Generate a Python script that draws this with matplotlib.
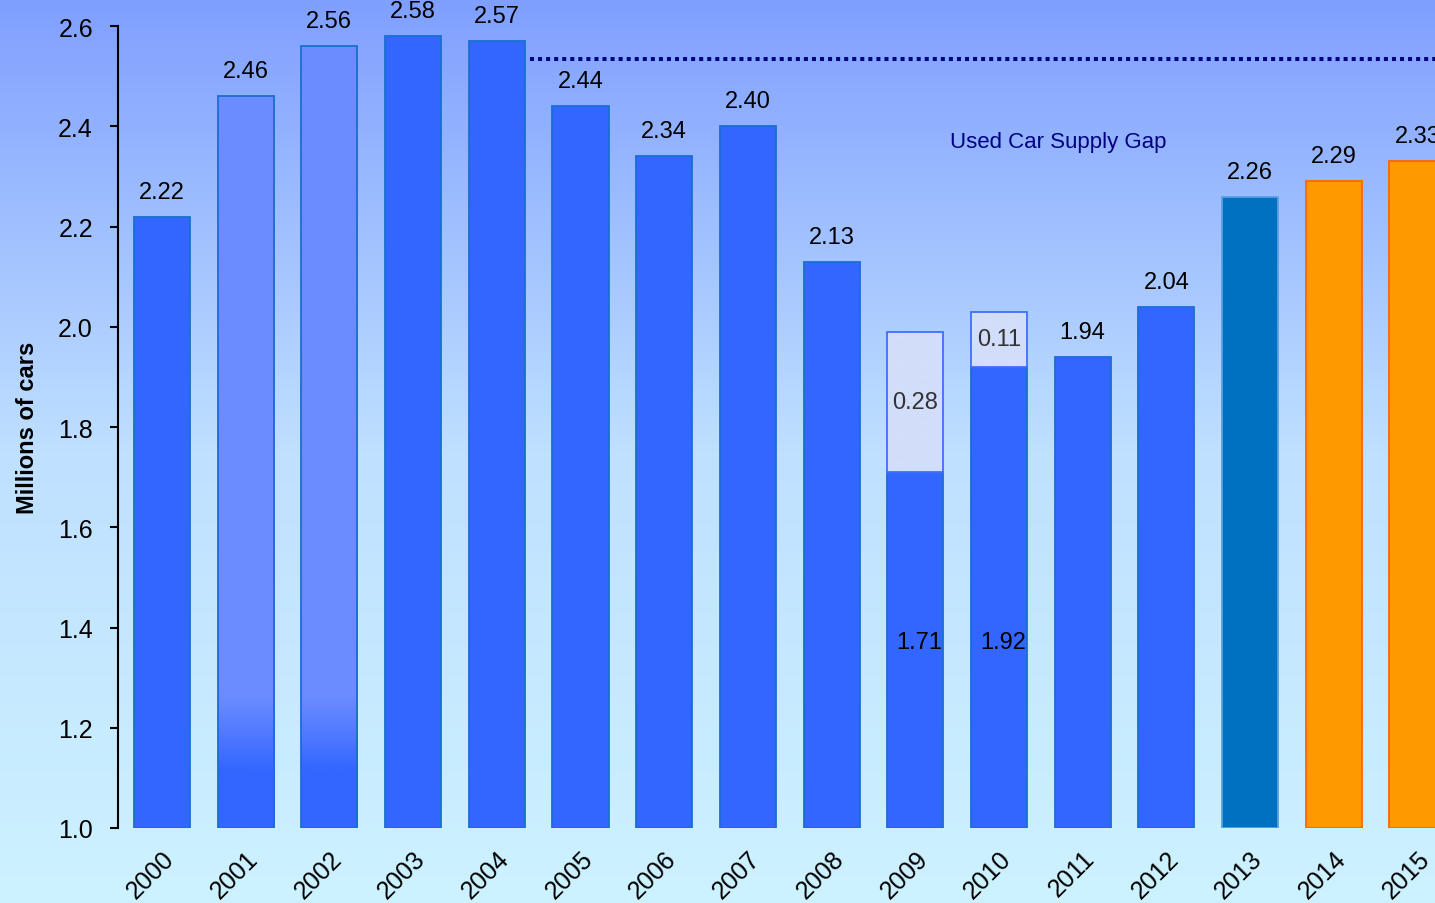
import numpy as np
import matplotlib.pyplot as plt
from matplotlib.colors import LinearSegmentedColormap

plt.rcParams['font.family'] = ['Liberation Sans', 'DejaVu Sans']

# data
years = [str(y) for y in range(2000, 2016)]
sales = [2.22, 2.46, 2.56, 2.58, 2.57, 2.44, 2.34, 2.40, 2.13,
         1.71, 1.92, 1.94, 2.04, 2.26, 2.29, 2.33]
gap_years = ['2009', '2010']
gap_values = [0.28, 0.11]
supply_level = 2.535
gap_label = 'Used Car Supply Gap'

# styling per bar
face = ['#3366ff'] * 13 + ['#0070c0', '#ff9900', '#ff9900']
edge = ['#1a6fd0'] * 13 + ['#5aa0e0', '#ff6600', '#ff6600']
faded = ['2001', '2002']
inside_label = ['2009', '2010']

fig = plt.figure(figsize=(14.35, 9.04), dpi=100)

# background gradient
bg = fig.add_axes([0, 0, 1, 1], zorder=0)
bg_cmap = LinearSegmentedColormap.from_list('bg', ['#cdf2ff', '#bfe0ff', '#7f9fff'])
bg.imshow(np.linspace(0, 1, 256).reshape(-1, 1)[::-1], cmap=bg_cmap,
          aspect='auto', extent=[0, 1, 0, 1])
bg.axis('off')

ax = fig.add_axes([0.0822, 0.083, 0.9178, 0.887], zorder=1)
ax.patch.set_alpha(0)

x = np.arange(len(years))
w = 0.67
base = 1.0
bars = ax.bar(x, np.array(sales) - base, bottom=base, width=w,
              color=face, edgecolor=edge, linewidth=1.3, zorder=3)

# faded bars (lighter on top, blue at the base)
fade_cmap = LinearSegmentedColormap.from_list('fade', ['#3366ff', '#6b8cff'])
for yr in faded:
    i = years.index(yr)
    b = bars[i]
    b.set_facecolor('none')
    top = sales[i]
    vals = np.linspace(base, top, 300)
    t = np.clip((vals - 1.11) / 0.15, 0, 1)
    im = ax.imshow(t.reshape(-1, 1)[::-1], cmap=fade_cmap, aspect='auto',
                   extent=[x[i] - w / 2, x[i] + w / 2, base, top], zorder=2)
    im.set_clip_path(b)

# supply gap bars
for yr, g in zip(gap_years, gap_values):
    i = years.index(yr)
    ax.bar(x[i], g, bottom=sales[i], width=w, color='#e2eaff', edgecolor='#c4d2f6',
           hatch='.........', linewidth=0, zorder=3)
    ax.bar(x[i], g, bottom=sales[i], width=w, color='none', edgecolor='#3f6fff',
           linewidth=1.3, zorder=4)
    ax.text(x[i], sales[i] + g / 2, f'{g:.2f}', ha='center', va='center',
            fontsize=17, color='#333333', zorder=5)

# value labels
for i, v in enumerate(sales):
    if years[i] in inside_label:
        ax.text(x[i] + 0.05, 1.372, f'{v:.2f}', ha='center', va='center',
                fontsize=17, color='black', zorder=5)
    else:
        ax.annotate(f'{v:.2f}', (x[i], v), xytext=(0, 18), textcoords='offset points',
                    ha='center', va='center', fontsize=17, color='black',
                    annotation_clip=False, zorder=5)

# supply gap line
ax.plot([4.4, 15.3], [supply_level, supply_level], color='#000080', lw=2.9,
        linestyle=(0, (1, 1)), dash_capstyle='butt', zorder=4, clip_on=False)
ax.text(9.41, 2.369, gap_label, color='#000080', fontsize=16, ha='left', va='center')

ax.set_ylim(1.0, 2.6)
ax.set_xlim(-0.526, 15.21)
ax.set_yticks(np.arange(1.0, 2.61, 0.2))
ax.set_yticklabels([f'{v:.1f}' for v in np.arange(1.0, 2.61, 0.2)], fontsize=18)
ax.set_xticks(x)
ax.set_xticklabels(years, rotation=45, ha='right', rotation_mode='anchor', fontsize=18)
ax.tick_params(axis='x', length=0, pad=13)
ax.tick_params(axis='y', length=6, width=1.5, direction='out', pad=12)
for s in ['top', 'right', 'bottom']:
    ax.spines[s].set_visible(False)
ax.spines['left'].set_linewidth(1.5)
ax.set_ylabel('Millions of cars', fontsize=17, fontweight='bold', labelpad=14)

fig.savefig('out.png', dpi=100)
